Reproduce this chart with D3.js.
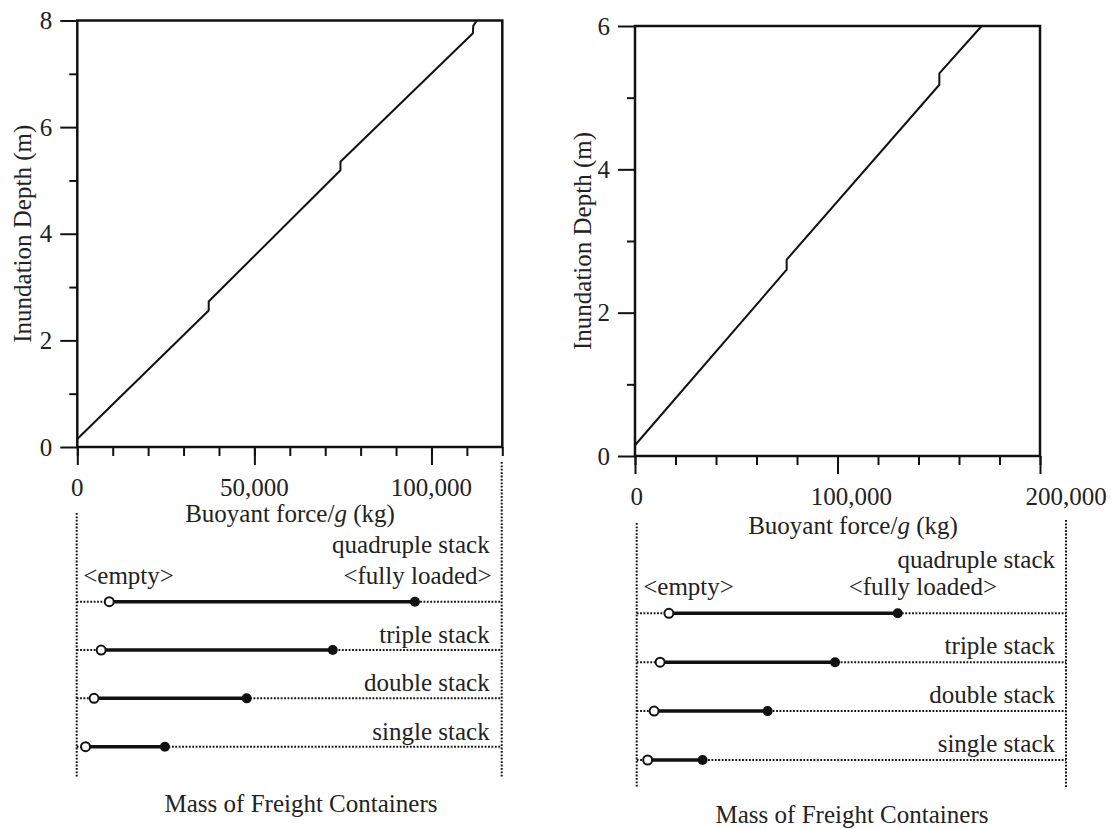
<!DOCTYPE html>
<html>
<head>
<meta charset="utf-8">
<script src="https://cdn.jsdelivr.net/npm/d3@7"></script>
<style>
  html, body { margin: 0; padding: 0; background: #fff; }
  svg { display: block; }
  text { font-family: "Liberation Serif", "Times New Roman", serif; fill: #222; }
</style>
</head>
<body>
<svg id="chart" width="1114" height="829"></svg>
<script>
// Buoyant force vs. inundation depth for 20 ft (left) and 40 ft (right) containers
const leftForce  = [0, 37100, 37100, 74300, 74300, 111700, 111800, 112800];
const leftDepth  = [0.15, 2.56, 2.73, 5.19, 5.35, 7.76, 7.9, 8.0];
const rightForce = [0, 74900, 74900, 150300, 150300, 171200];
const rightDepth = [0.15, 2.6, 2.74, 5.18, 5.34, 6.0];

// Stack configurations: container mass empty and fully loaded (kg)
const stackNames  = ["quadruple stack", "triple stack", "double stack", "single stack"];
const leftEmpty   = [9200, 6900, 4900, 2500];
const leftLoaded  = [95500, 72300, 48000, 24900];
const rightEmpty  = [15000, 10900, 8100, 5100];
const rightLoaded = [121600, 92400, 61000, 30700];

// Axis ticks
const leftXMajor  = [0, 50000, 100000];
const leftXMinor  = d3.range(0, 120001, 10000);
const leftYMajor  = [0, 2, 4, 6, 8];
const leftYMinor  = [1, 3, 5, 7];
const rightXMajor = [0, 100000, 200000];
const rightXMinor = d3.range(0, 200001, 20000);
const rightYMajor = [0, 2, 4, 6];
const rightYMinor = [1, 3, 5];

const svg = d3.select("#chart");
const FONT = 25;
const fmt = d3.format(",");

function drawPanel(p) {
  const g = svg.append("g");
  const x = d3.scaleLinear().domain(p.xDomain).range(p.xRange);
  const y = d3.scaleLinear().domain(p.yDomain).range(p.yRange);
  const xb = d3.scaleLinear().domain(p.xDomain).range(p.xbRange);
  const rowY = d3.scalePoint().domain(stackNames).range(p.rowRange);

  const [x0, x1] = p.xRange;
  const [yb, yt] = p.yRange;

  // minor and major ticks on the x axis
  g.append("g").attr("transform", `translate(0,${yb})`)
    .call(d3.axisBottom(x).tickValues(p.xMinor).tickSize(9).tickFormat("").tickSizeOuter(0))
    .call(a => a.select(".domain").remove())
    .call(a => a.selectAll("line").attr("stroke", "#111").attr("stroke-width", 2));
  g.append("g").attr("transform", `translate(0,${yb})`)
    .call(d3.axisBottom(x).tickValues(p.xMajor).tickSize(18).tickFormat("").tickSizeOuter(0))
    .call(a => a.select(".domain").remove())
    .call(a => a.selectAll("line").attr("stroke", "#111").attr("stroke-width", 2));

  // minor and major ticks on the y axis
  g.append("g").attr("transform", `translate(${x0},0)`)
    .call(d3.axisLeft(y).tickValues(p.yMinor).tickSize(8).tickFormat("").tickSizeOuter(0))
    .call(a => a.select(".domain").remove())
    .call(a => a.selectAll("line").attr("stroke", "#111").attr("stroke-width", 2));
  g.append("g").attr("transform", `translate(${x0},0)`)
    .call(d3.axisLeft(y).tickValues(p.yMajor).tickSize(17).tickPadding(8).tickFormat(d3.format("d")).tickSizeOuter(0))
    .call(a => a.select(".domain").remove())
    .call(a => a.selectAll("line").attr("stroke", "#111").attr("stroke-width", 2))
    .call(a => a.selectAll("text").attr("font-size", FONT).attr("font-family", "Liberation Serif").attr("fill", "#222"));

  // plot frame
  g.append("rect")
    .attr("x", x0).attr("y", yt)
    .attr("width", x1 - x0).attr("height", yb - yt)
    .attr("fill", "none").attr("stroke", "#111").attr("stroke-width", 2.5);

  // x tick labels
  g.selectAll(".xlab").data(p.xMajor).join("text")
    .attr("x", d => p.labelScale === "lower" ? xb(d) : x(d))
    .attr("y", p.xLabelY)
    .attr("text-anchor", "middle")
    .attr("font-size", FONT)
    .text(d => fmt(d));

  // x title
  const xt = g.append("text")
    .attr("x", p.xTitleX).attr("y", p.xTitleY)
    .attr("text-anchor", "middle").attr("font-size", FONT);
  xt.append("tspan").text("Buoyant force/");
  xt.append("tspan").attr("font-style", "italic").text("g");
  xt.append("tspan").text(" (kg)");

  // y title
  g.append("text")
    .attr("transform", `translate(${p.yTitleX},${(yb + yt) / 2}) rotate(-90)`)
    .attr("text-anchor", "middle").attr("dy", "0.35em")
    .attr("font-size", FONT)
    .text("Inundation Depth (m)");

  // depth curve
  const pts = p.force.map((f, i) => [f, p.depth[i]]);
  g.append("path")
    .attr("d", d3.line().x(d => x(d[0])).y(d => y(d[1]))(pts))
    .attr("fill", "none").attr("stroke", "#111").attr("stroke-width", 2)
    .attr("stroke-linejoin", "round");

  // lower panel: dotted guides
  const [bx0, bx1] = p.xbRange;
  const dots = "1.8,1.6";
  const dotW = 2;
  g.append("line").attr("x1", bx0).attr("x2", bx0).attr("y1", p.leftGuide[0]).attr("y2", p.leftGuide[1])
    .attr("stroke", "#111").attr("stroke-width", dotW).attr("stroke-dasharray", dots);
  g.append("line").attr("x1", bx1).attr("x2", bx1).attr("y1", p.rightGuide[0]).attr("y2", p.rightGuide[1])
    .attr("stroke", "#111").attr("stroke-width", dotW).attr("stroke-dasharray", dots);
  g.selectAll(".row").data(stackNames).join("line")
    .attr("x1", bx0).attr("x2", bx1)
    .attr("y1", d => rowY(d)).attr("y2", d => rowY(d))
    .attr("stroke", "#111").attr("stroke-width", dotW).attr("stroke-dasharray", dots);

  // mass ranges
  const rows = stackNames.map((n, i) => ({ name: n, empty: p.empty[i], loaded: p.loaded[i] }));
  g.selectAll(".seg").data(rows).join("line")
    .attr("x1", d => xb(d.empty)).attr("x2", d => xb(d.loaded))
    .attr("y1", d => rowY(d.name)).attr("y2", d => rowY(d.name))
    .attr("stroke", "#111").attr("stroke-width", 3.5);
  g.selectAll(".full").data(rows).join("circle")
    .attr("cx", d => xb(d.loaded)).attr("cy", d => rowY(d.name)).attr("r", 5)
    .attr("fill", "#111");
  g.selectAll(".empty").data(rows).join("circle")
    .attr("cx", d => xb(d.empty)).attr("cy", d => rowY(d.name)).attr("r", 4.5)
    .attr("fill", "#fff").attr("stroke", "#111").attr("stroke-width", 2);

  // row labels
  g.selectAll(".rlab").data(rows.slice(1)).join("text")
    .attr("x", bx1 - p.labelInset).attr("y", d => rowY(d.name) - p.rowLabelGap)
    .attr("text-anchor", "end").attr("font-size", FONT)
    .text(d => d.name);
  const r0 = rowY(stackNames[0]);
  g.append("text").attr("x", bx1 - p.labelInset).attr("y", r0 - p.topLabelGap)
    .attr("text-anchor", "end").attr("font-size", FONT).text(stackNames[0]);
  g.append("text").attr("x", bx0 + 6.5).attr("y", r0 - 18)
    .attr("font-size", FONT).text("<empty>");
  g.append("text").attr("x", p.loadedLabelX).attr("y", r0 - 18)
    .attr("text-anchor", "end").attr("font-size", FONT).text("<fully loaded>");

  // lower panel title
  g.append("text").attr("x", p.massTitleX).attr("y", p.massTitleY)
    .attr("text-anchor", "middle").attr("font-size", FONT)
    .text("Mass of Freight Containers");
}

drawPanel({
  force: leftForce, depth: leftDepth,
  empty: leftEmpty, loaded: leftLoaded,
  xDomain: [0, 120000], yDomain: [0, 8],
  xRange: [77.3, 502.3], yRange: [447, 20.5],
  xbRange: [76.7, 501.7], rowRange: [601.7, 746.7],
  xMajor: leftXMajor, xMinor: leftXMinor, yMajor: leftYMajor, yMinor: leftYMinor,
  labelScale: "upper", xLabelY: 496,
  xTitleX: 290, xTitleY: 522, yTitleX: 22,
  leftGuide: [513, 777], rightGuide: [462, 777],
  labelInset: 12, rowLabelGap: 7, topLabelGap: 48.5,
  loadedLabelX: 491.7,
  massTitleX: 301, massTitleY: 812
});

drawPanel({
  force: rightForce, depth: rightDepth,
  empty: rightEmpty, loaded: rightLoaded,
  xDomain: [0, 200000], yDomain: [0, 6],
  xRange: [635, 1040], yRange: [456, 26],
  xbRange: [636.7, 1066], rowRange: [613.3, 760],
  xMajor: rightXMajor, xMinor: rightXMinor, yMajor: rightYMajor, yMinor: rightYMinor,
  labelScale: "lower", xLabelY: 505,
  xTitleX: 853, xTitleY: 534, yTitleX: 582,
  leftGuide: [523, 787], rightGuide: [520, 787],
  labelInset: 11, rowLabelGap: 8, topLabelGap: 45,
  loadedLabelX: 997,
  massTitleX: 852, massTitleY: 823
});
</script>
</body>
</html>
